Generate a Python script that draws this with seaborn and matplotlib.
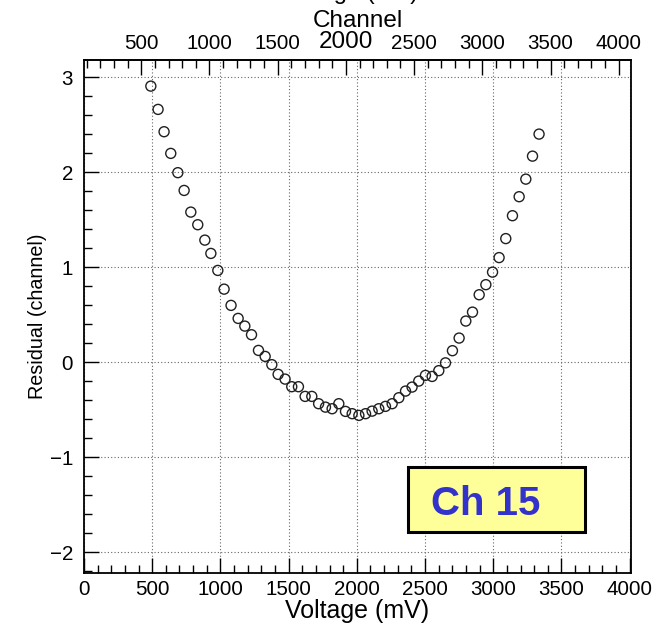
import numpy as np
import pandas as pd
import matplotlib
matplotlib.use("Agg")
import matplotlib.pyplot as plt
from matplotlib.ticker import MultipleLocator, FixedLocator
from matplotlib.patches import Rectangle
import seaborn as sns

# ---- data ----
voltage_mV = [490, 543, 587, 636, 688, 734, 783, 834, 886, 930,
              981, 1027, 1078, 1130, 1179, 1228, 1279, 1328, 1377, 1423,
              1474, 1523, 1572, 1621, 1670, 1720, 1770, 1819, 1868, 1917,
              1966, 2015, 2064, 2112, 2161, 2210, 2259, 2308, 2357, 2405,
              2454, 2503, 2552, 2601, 2650, 2701, 2750, 2799, 2848, 2897,
              2946, 2995, 3043, 3092, 3141, 3190, 3239, 3288, 3336]
residual = [2.905, 2.66, 2.425, 2.197, 1.994, 1.807, 1.579, 1.446, 1.284, 1.144,
            0.965, 0.768, 0.597, 0.46, 0.379, 0.288, 0.123, 0.06, -0.027, -0.129,
            -0.179, -0.259, -0.259, -0.361, -0.361, -0.438, -0.474, -0.491, -0.438, -0.519,
            -0.543, -0.561, -0.543, -0.516, -0.491, -0.466, -0.438, -0.375, -0.305, -0.263,
            -0.2, -0.14, -0.151, -0.09, -0.008, 0.12, 0.253, 0.432, 0.526, 0.709,
            0.815, 0.947, 1.10, 1.30, 1.541, 1.741, 1.926, 2.168, 2.4]

bottom_ticks = [0, 500, 1000, 1500, 2000, 2500, 3000, 3500, 4000]
top_ticks = [500, 1000, 1500, 2000, 2500, 3000, 3500, 4000]
y_ticks = [-2, -1, 0, 1, 2, 3]
label_text = "Ch 15"

df = pd.DataFrame({"Voltage (mV)": voltage_mV, "Residual (channel)": residual})

sns.set_theme(style="white")
plt.rcParams['font.family'] = ['Liberation Sans', 'DejaVu Sans']
plt.rcParams['text.color'] = 'black'
plt.rcParams['axes.labelcolor'] = 'black'

fig = plt.figure(figsize=(6.52, 6.23), dpi=100)
ax = fig.add_axes([84/652, 1-573/623, (631-84)/652, (573-60)/623])

sns.scatterplot(data=df, x="Voltage (mV)", y="Residual (channel)", ax=ax,
                marker='o', s=52, facecolor='none', edgecolor='#202020',
                linewidth=1.0, zorder=3)

ax.set_xlim(0, 4010)
ax.set_ylim(-2.22, 3.18)
ax.xaxis.set_major_locator(FixedLocator(bottom_ticks))
ax.xaxis.set_minor_locator(MultipleLocator(100))
ax.yaxis.set_major_locator(FixedLocator(y_ticks))
ax.yaxis.set_minor_locator(MultipleLocator(0.2))

ax.grid(True, which='major', color='#666666', linestyle=(0, (1, 2)), linewidth=0.8)
for s in ax.spines.values():
    s.set_color('black')
    s.set_linewidth(1.3)

ax.tick_params(axis='both', which='major', direction='in', length=10.5, width=1.0,
               color='black', labelsize=14.8, labelcolor='black')
ax.tick_params(axis='both', which='minor', direction='in', length=5.5, width=1.0,
               color='black')
ax.tick_params(axis='x', which='both', bottom=True, top=False, pad=5)
ax.tick_params(axis='y', which='both', left=True, right=False, pad=8)

ax.set_xlabel("Voltage (mV)", fontsize=18, labelpad=0, color='black')
ax.set_ylabel("Residual (channel)", fontsize=14.2, labelpad=2, color='black')

# top Channel axis
off = 80.0
sec = ax.secondary_xaxis('top', functions=(lambda v: v + off, lambda c: c - off))
sec.xaxis.set_major_locator(FixedLocator(top_ticks))
sec.xaxis.set_minor_locator(MultipleLocator(100))
sec.tick_params(axis='x', which='major', direction='in', length=10.5, width=1.0,
                color='black', labelsize=14.8, labelcolor='black', pad=5)
sec.tick_params(axis='x', which='minor', direction='in', length=5.5, width=1.0,
                color='black')
sec.spines['top'].set_linewidth(1.3)
sec.set_xlabel("Channel", fontsize=17.5, labelpad=3, color='black')
fig.canvas.draw()
for t in sec.get_xticklabels():
    if t.get_text() == '2000':
        t.set_fontsize(17.5)

# clipped title at very top (only its descenders show, as in the reference)
fig.text(350/652, 1 + 1/623, "Voltage (mV)", ha='center', va='baseline', fontsize=17,
         color='black')

# label box
x0 = (408-84)/547; x1 = (585-84)/547
y0 = (573-532)/513; y1 = (573-467)/513
ax.add_patch(Rectangle((x0, y0), x1-x0, y1-y0, transform=ax.transAxes,
                       facecolor='#ffff99', edgecolor='black', linewidth=2.2, zorder=5))
ax.text((486-84)/547, (573-504)/513, label_text, transform=ax.transAxes,
        ha='center', va='center', fontsize=29, fontweight='bold', color='#3333cc',
        zorder=6)

fig.savefig("out.png", dpi=100)
